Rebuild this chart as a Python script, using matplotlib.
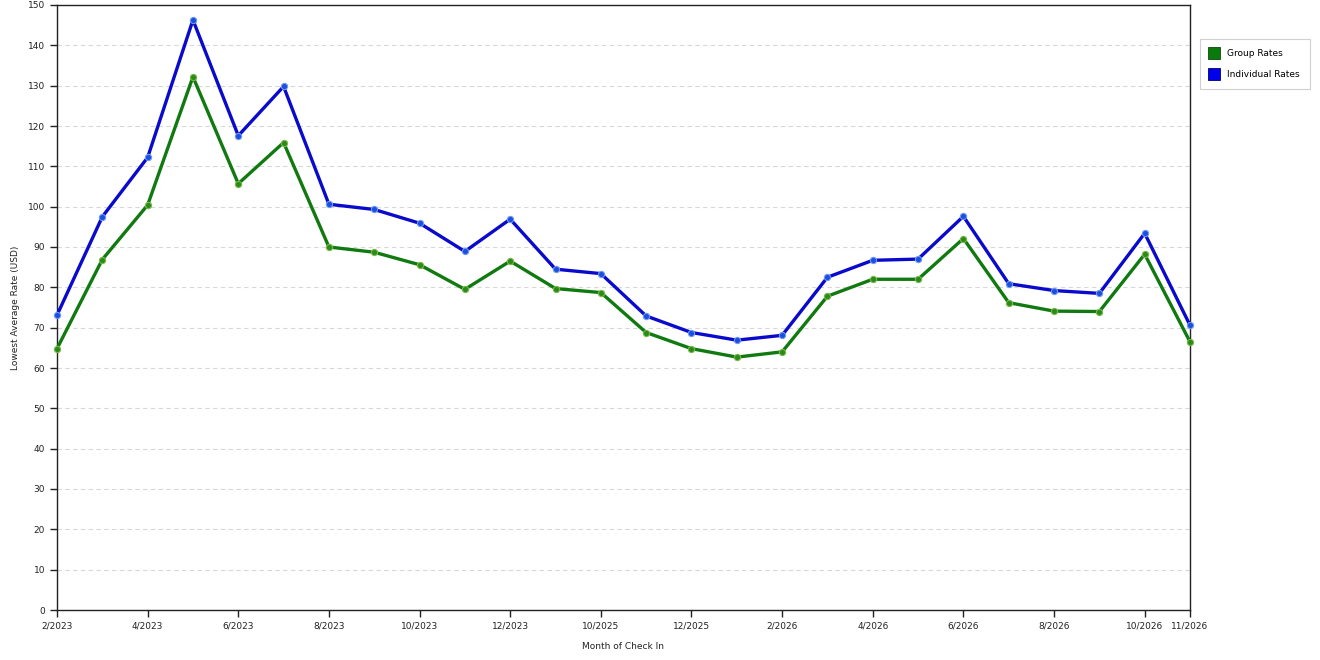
import numpy as np
import matplotlib
matplotlib.use('Agg')
import matplotlib.pyplot as plt
from matplotlib.lines import Line2D

# Months of check in (categorical axis, gap between 12/2023 and 9/2025)
months = ['2/2023', '3/2023', '4/2023', '5/2023', '6/2023', '7/2023', '8/2023',
          '9/2023', '10/2023', '11/2023', '12/2023', '9/2025', '10/2025',
          '11/2025', '12/2025', '1/2026', '2/2026', '3/2026', '4/2026',
          '5/2026', '6/2026', '7/2026', '8/2026', '9/2026', '10/2026', '11/2026']

group_rates = [64.8, 86.9, 100.4, 132.2, 105.7, 115.9, 90.0, 88.7, 85.6, 79.5,
               86.5, 79.7, 78.7, 68.8, 64.8, 62.7, 64.0, 77.8, 82.0, 82.0,
               92.1, 76.2, 74.1, 74.0, 88.2, 66.5]

individual_rates = [73.1, 97.5, 112.2, 146.3, 117.6, 129.8, 100.6, 99.3, 95.9,
                    88.9, 96.9, 84.5, 83.4, 72.9, 68.8, 66.9, 68.1, 82.5, 86.7,
                    87.0, 97.6, 80.9, 79.2, 78.5, 93.4, 70.6]

# labels shown on every other month plus the last one
tick_idx = list(range(0, len(months), 2)) + [len(months) - 1]

green = '#107a10'
blue = '#0a0acc'

fig = plt.figure(figsize=(13.2, 6.6), dpi=100)
ax = fig.add_axes([57/1320, 50/660, (1190-57)/1320, (610-5)/660])

x = np.arange(len(months))

ax.plot(x, group_rates, color=green, lw=2.4, marker='o', ms=4.5,
        mfc='#2a8a1a', mec='#7cb84a', mew=0.8, zorder=3, clip_on=False)
ax.plot(x, individual_rates, color=blue, lw=2.4, marker='o', ms=4.5,
        mfc='#1a4fe0', mec='#6f9af0', mew=0.8, zorder=4, clip_on=False)

ax.set_xlim(0, len(months) - 1)
ax.set_ylim(0, 150)
ax.set_yticks(range(0, 151, 10))
ax.set_xticks(tick_idx)
ax.set_xticklabels([months[i] for i in tick_idx])

for yv in range(10, 150, 10):
    ax.axhline(yv, color='#d8d8d8', lw=0.8, ls=(0, (4, 3)), zorder=1)

ax.tick_params(axis='both', labelsize=6.5, length=5, width=1, color='#222222',
               labelcolor='#222222', direction='out')
for sp in ax.spines.values():
    sp.set_color('#222222')
    sp.set_linewidth(1)

ax.set_xlabel('Month of Check In', fontsize=6.5, color='#222222', labelpad=8)
ax.set_ylabel('Lowest Average Rate (USD)', fontsize=6.5, color='#222222', labelpad=6)

handles = [Line2D([], [], ls='none', marker='s', ms=9, mfc='#0a7a0a', mec='#0a4a0a', mew=0.6),
           Line2D([], [], ls='none', marker='s', ms=9, mfc='#0000ee', mec='#00006a', mew=0.6)]
leg = fig.legend(handles, ['Group Rates', 'Individual Rates'], loc='upper left',
                 bbox_to_anchor=(1200/1320, 1 - 39/660), fontsize=6.5,
                 fancybox=False, framealpha=1, edgecolor='#d0d0d0',
                 handlelength=1.0, handletextpad=0.9, borderpad=1.1,
                 labelspacing=1.3, borderaxespad=0)
leg.get_frame().set_linewidth(0.8)

fig.savefig('out.png', dpi=100)
